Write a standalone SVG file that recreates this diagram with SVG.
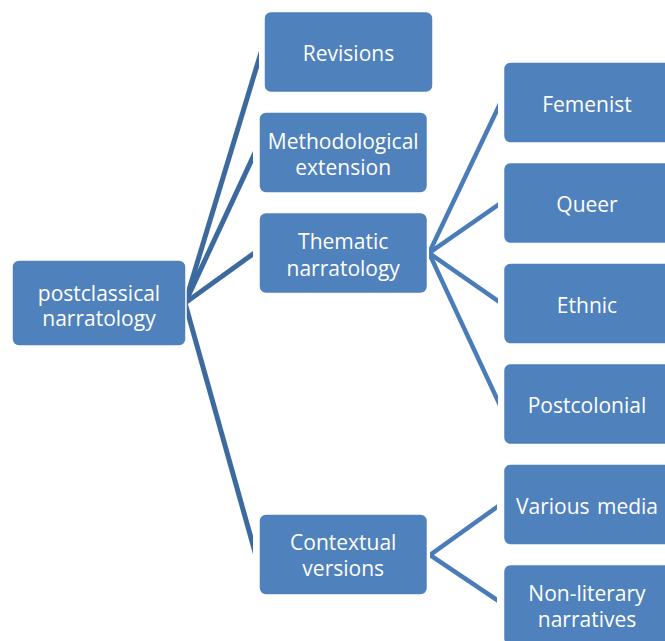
<svg xmlns="http://www.w3.org/2000/svg" width="665" height="641" viewBox="0 0 665 641">
<style>
.box{fill:#4F81BD;stroke:#ffffff;stroke-width:1.5}
.t{font-family:"Open Sans","Liberation Sans",sans-serif;font-size:21px;fill:#ffffff;text-anchor:middle}
.c1{fill:#3D6A9E}
.c2{fill:#4A7CB8}
</style>
<rect width="665" height="641" fill="#ffffff"/>
<g id="connectors">
<path class="c1" d="M185,294.4 L259,50.4 L259,67.6 L185,311.6Z"/>
<path class="c1" d="M185,297.1 L253,151.1 L253,162.9 L185,308.9Z"/>
<path class="c1" d="M185,299.9 L253,250.9 L253,257.1 L185,306.1Z"/>
<path class="c1" d="M185,293.8 L253,535.8 L253,554.2 L185,312.2Z"/>
<path class="c2" d="M429,247.8 L498,102.8 L498,113.2 L429,258.2Z"/>
<path class="c2" d="M429,250.3 L498,202.3 L498,207.7 L429,255.7Z"/>
<path class="c2" d="M429,250.3 L498,298.3 L498,303.7 L429,255.7Z"/>
<path class="c2" d="M429,247.7 L498,395.7 L498,406.3 L429,258.3Z"/>
<path class="c2" d="M430,552.2 L497,504.2 L497,509.8 L430,557.8Z"/>
<path class="c2" d="M430,552.3 L497,597.3 L497,602.7 L430,557.7Z"/>
</g>
<g id="root"><rect class="box" x="12" y="260" width="174" height="86" rx="7"/><text class="t" x="99" y="300.5">postclassical</text><text class="t" x="99" y="326">narratology</text></g>
<g id="revisions"><rect class="box" x="264" y="11.5" width="169" height="81" rx="7"/><text class="t" x="348.5" y="61">Revisions</text></g>
<g id="methodological"><rect class="box" x="259" y="112" width="168.5" height="81" rx="7"/><text class="t" x="343.2" y="149">Methodological</text><text class="t" x="343.2" y="175">extension</text></g>
<g id="thematic"><rect class="box" x="259" y="212.5" width="168.5" height="81" rx="7"/><text class="t" x="343.2" y="248.5">Thematic</text><text class="t" x="343.2" y="275.5">narratology</text></g>
<g id="contextual"><rect class="box" x="259" y="514" width="168.5" height="81" rx="7"/><text class="t" x="343.2" y="550">Contextual</text><text class="t" x="343.2" y="576">versions</text></g>
<g id="femenist"><rect class="box" x="503.5" y="62" width="168" height="81" rx="7"/><text class="t" x="587" y="112">Femenist</text></g>
<g id="queer"><rect class="box" x="503.5" y="162.5" width="168" height="81" rx="7"/><text class="t" x="587" y="212">Queer</text></g>
<g id="ethnic"><rect class="box" x="503.5" y="263" width="168" height="81" rx="7"/><text class="t" x="587" y="312.5">Ethnic</text></g>
<g id="postcolonial"><rect class="box" x="503.5" y="363.5" width="168" height="81" rx="7"/><text class="t" x="587" y="413">Postcolonial</text></g>
<g id="various"><rect class="box" x="503.5" y="464" width="168" height="81" rx="7"/><text class="t" x="587" y="514" word-spacing="2">Various media</text></g>
<g id="nonliterary"><rect class="box" x="503.5" y="564.5" width="168" height="81" rx="7"/><text class="t" x="587" y="601">Non-literary</text><text class="t" x="587" y="627">narratives</text></g>
</svg>
